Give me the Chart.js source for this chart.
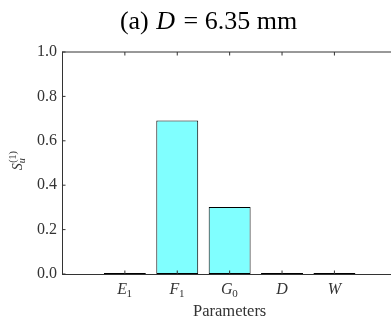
<!DOCTYPE html>
<html>
<head>
<meta charset="utf-8">
<script src="https://cdn.jsdelivr.net/npm/chart.js@4.4.1/dist/chart.umd.min.js"></script>
<style>
  html, body { margin: 0; padding: 0; background: #fff; }
  #wrap { width: 391px; height: 320px; position: relative; }
</style>
</head>
<body>
<div id="wrap"><canvas id="c"></canvas></div>
<script>
// ---- data ----
const paramLetters = ['E', 'F', 'G', 'D', 'W'];
const paramSubscripts = ['1', '1', '0', '', ''];
const sensitivity = [0.005, 0.691, 0.302, 0.004, 0.004];
const yTicks = [0, 0.2, 0.4, 0.6, 0.8, 1.0];
const titleParts = ['(a) ', 'D', ' = ', '6.35 mm'];
const xLabel = 'Parameters';

const SERIF = '"Liberation Serif", "Times New Roman", serif';
const AXIS_COLOR = '#333333';
const TEXT_COLOR = '#333333';

const decorPlugin = {
  id: 'decor',
  afterDraw(chart) {
    const ctx = chart.ctx;
    const a = chart.chartArea;
    const xs = chart.scales.x, ys = chart.scales.y;
    ctx.save();
    // top border
    ctx.strokeStyle = AXIS_COLOR;
    ctx.lineWidth = 1;
    ctx.beginPath();
    ctx.moveTo(a.left, a.top);
    ctx.lineTo(a.right, a.top);
    ctx.stroke();
    // inward ticks
    const tl = 3.5;
    ctx.beginPath();
    yTicks.forEach(v => {
      const y = ys.getPixelForValue(v);
      ctx.moveTo(a.left, y); ctx.lineTo(a.left + tl, y);
    });
    paramLetters.forEach((_, i) => {
      const x = xs.getPixelForValue(i);
      ctx.moveTo(x, a.top); ctx.lineTo(x, a.top + tl);
      ctx.moveTo(x, a.bottom); ctx.lineTo(x, a.bottom - tl);
    });
    ctx.stroke();

    // x tick labels (italic letter + upright subscript)
    ctx.fillStyle = TEXT_COLOR;
    ctx.textBaseline = 'alphabetic';
    ctx.textAlign = 'left';
    const mainFont = 'italic 16px ' + SERIF;
    const subFont = '11px ' + SERIF;
    const baseY = a.bottom + 19.5;
    paramLetters.forEach((L, i) => {
      const s = paramSubscripts[i];
      ctx.font = mainFont;
      const wL = ctx.measureText(L).width;
      ctx.font = subFont;
      const wS = s ? ctx.measureText(s).width : 0;
      const total = wL + wS;
      const x0 = xs.getPixelForValue(i) - total / 2;
      ctx.font = mainFont;
      ctx.fillText(L, x0, baseY);
      if (s) {
        ctx.font = subFont;
        ctx.fillText(s, x0 + wL - 0.5, baseY + 3);
      }
    });

    // x axis label
    ctx.font = '16.5px ' + SERIF;
    ctx.textAlign = 'center';
    ctx.fillText(xLabel, xs.getPixelForValue(2), a.bottom + 42);

    // y axis label S_u^(1), rotated
    ctx.save();
    ctx.translate(22, (a.top + a.bottom) / 2 - 2);
    ctx.rotate(-Math.PI / 2);
    ctx.font = 'italic 14px ' + SERIF;
    const wSym = ctx.measureText('S').width;
    ctx.font = '10px ' + SERIF;
    const wSup = ctx.measureText('(1)').width;
    const tot = wSym + wSup;
    ctx.textAlign = 'left';
    ctx.font = 'italic 14px ' + SERIF;
    ctx.fillText('S', -tot / 2, 0);
    ctx.font = '10px ' + SERIF;
    ctx.fillText('(1)', -tot / 2 + wSym + 0.5, -6);
    ctx.font = 'italic 10px ' + SERIF;
    ctx.fillText('u', -tot / 2 + wSym, 3);
    ctx.restore();

    // title
    ctx.fillStyle = '#000';
    ctx.textAlign = 'left';
    const fonts = ['26px ' + SERIF, 'italic 26px ' + SERIF, '26px ' + SERIF, '26px ' + SERIF];
    const gaps = [0, 1, 2, 0];
    let widths = titleParts.map((t, i) => { ctx.font = fonts[i]; return ctx.measureText(t).width; });
    const totalW = widths.reduce((p, c) => p + c, 0) + gaps.reduce((p, c) => p + c, 0);
    let x = 208.5 - totalW / 2;
    titleParts.forEach((t, i) => {
      x += gaps[i];
      ctx.font = fonts[i];
      ctx.fillText(t, x, 29);
      x += widths[i];
    });
    ctx.restore();
  }
};

const ctx = document.getElementById('c').getContext('2d');
new Chart(ctx, {
  type: 'bar',
  data: {
    datasets: [{
      data: sensitivity.map((v, i) => ({ x: i, y: v })),
      backgroundColor: '#80ffff',
      borderColor: '#000000',
      borderWidth: 1,
      borderSkipped: false,
      barPercentage: 0.8,
      categoryPercentage: 1.0
    }]
  },
  options: {
    responsive: true,
    maintainAspectRatio: false,
    animation: false,
    layout: { padding: { top: 52, right: 0, left: 0, bottom: 0 } },
    plugins: { legend: { display: false }, tooltip: { enabled: false }, title: { display: false } },
    scales: {
      x: {
        type: 'linear',
        offset: false,
        min: -1.2,
        max: 5.08,
        grid: { display: false, drawTicks: false, offset: false },
        border: { display: true, color: AXIS_COLOR, width: 1 },
        ticks: { display: false },
        afterFit(s) { s.height = 46; }
      },
      y: {
        min: 0,
        max: 1.0,
        afterBuildTicks(s) { s.ticks = yTicks.map(v => ({ value: v })); },
        grid: { display: false, drawTicks: false },
        border: { display: true, color: AXIS_COLOR, width: 1 },
        ticks: {
          padding: 5,
          color: TEXT_COLOR,
          font: { family: SERIF, size: 16 },
          callback: v => Number(v).toFixed(1)
        },
        afterFit(s) { s.width = 62; }
      }
    }
  },
  plugins: [decorPlugin]
});
</script>
</body>
</html>
